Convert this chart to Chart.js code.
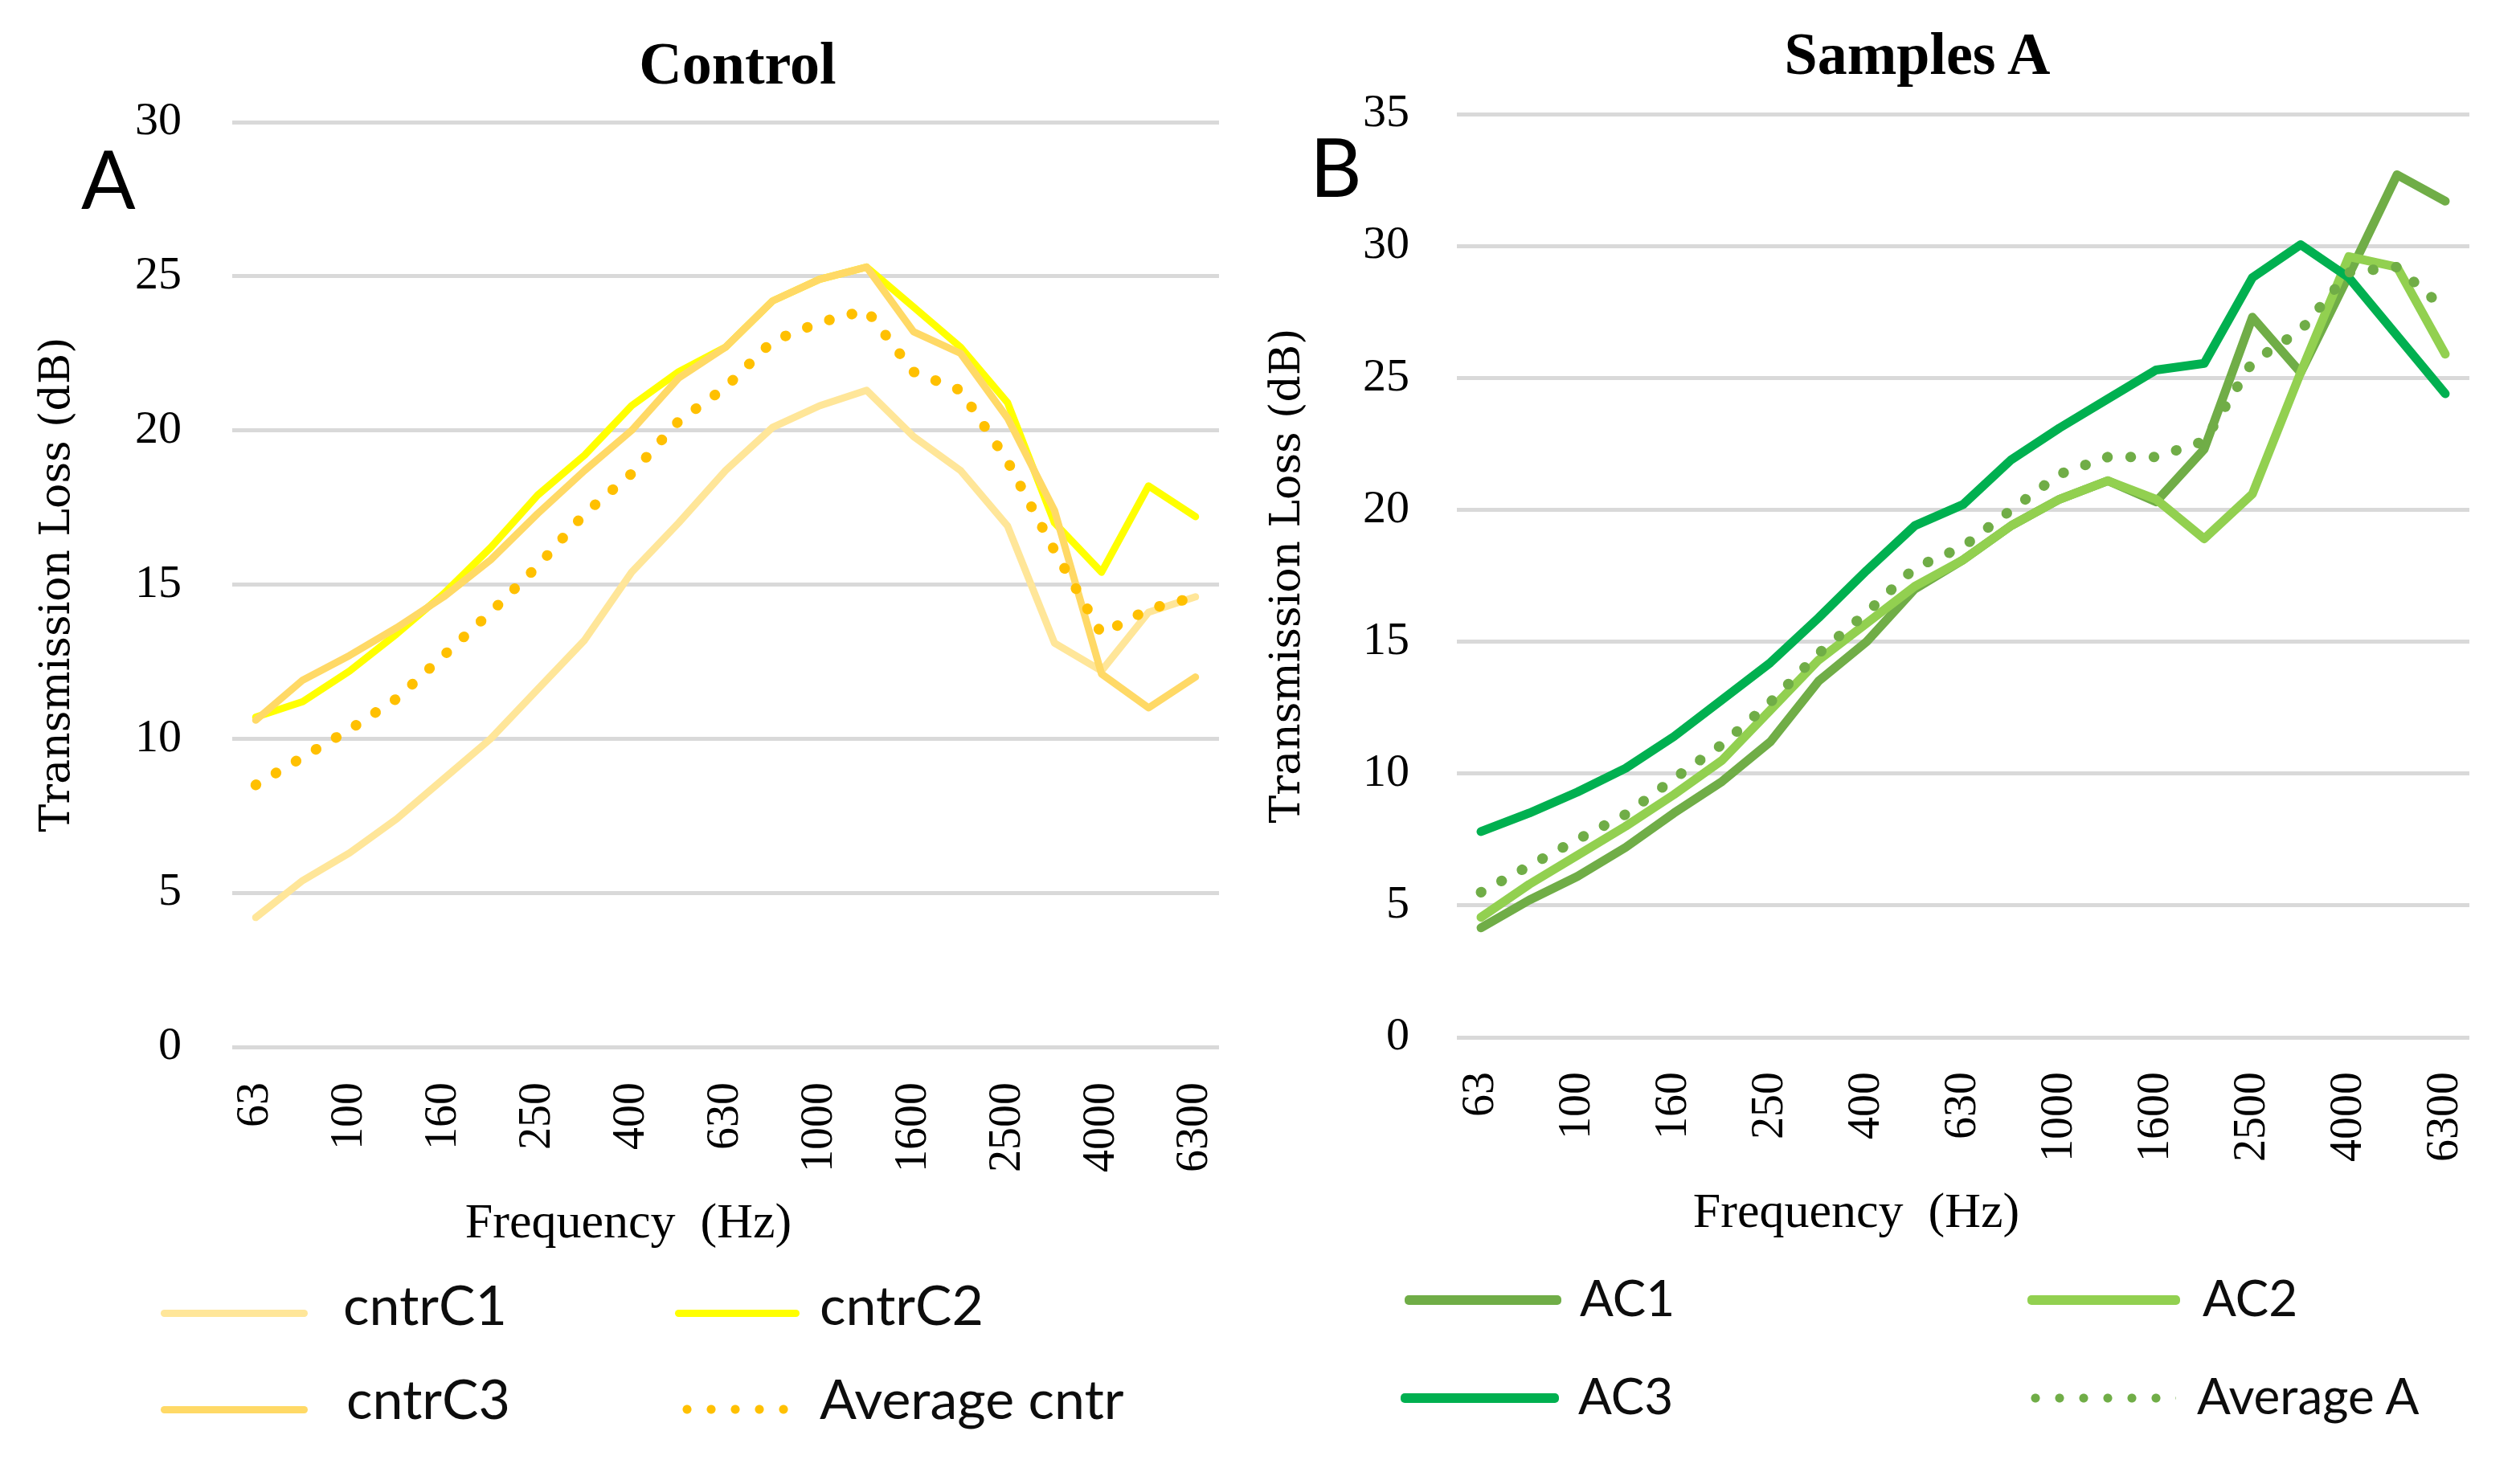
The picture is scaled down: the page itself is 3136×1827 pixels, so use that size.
<!DOCTYPE html>
<html>
<head>
<meta charset="utf-8">
<script src="https://cdn.jsdelivr.net/npm/chart.js@4.4.0/dist/chart.umd.min.js"></script>
<style>
    html, body { margin: 0; padding: 0; background: #fff; }
    body { width: 3136px; height: 1827px; position: relative; overflow: hidden; }
    canvas { position: absolute; top: 0; }
    .txt { position: absolute; white-space: nowrap; line-height: 1; color: #000; }
    .serif { font-family: "Liberation Serif", serif; }
    .sans { font-family: Lato, sans-serif; }
    .title { font-weight: bold; font-size: 74px; transform: translateX(-50%); }
    .caption { font-size: 62px; transform: translateX(-50%); }
    .letter { font-size: 100px; }
    .legtext { color: #0d0d0d; }
    .swatch { position: absolute; border-radius: 5px; }
</style>
</head>
<body>

<canvas id="controlChart" width="1568" height="1580" style="left:0px"></canvas>
<canvas id="samplesChart" width="1568" height="1580" style="left:1568px"></canvas>

<div class="txt serif title" style="left:918px; top:42px">Control</div>
<div class="txt serif title" style="left:2386px; top:30px">Samples A</div>
<div class="txt sans letter" style="left:101px; top:171px">A</div>
<div class="txt sans letter" style="left:1630px; top:156px">B</div>
<div class="txt serif caption" style="left:782px; top:1488px">Frequency&nbsp; (Hz)</div>
<div class="txt serif caption" style="left:2310px; top:1475px">Frequency&nbsp; (Hz)</div>
<div id="legends"></div>

<script>
// 1/3 octave bands, every other one is labelled on the axis
const freqLabels = ['63', '80', '100', '125', '160', '200', '250', '315', '400', '500', '630',
    '800', '1000', '1250', '1600', '2000', '2500', '3150', '4000', '5000', '6300'];

// Control
const cntrC1 = [4.2, 5.4, 6.3, 7.4, 8.7, 10.0, 11.6, 13.2, 15.4, 17.0, 18.7, 20.1, 20.8, 21.3, 19.8, 18.7, 16.9, 13.1, 12.2, 14.1, 14.6];
const cntrC2 = [10.7, 11.2, 12.2, 13.4, 14.7, 16.2, 17.9, 19.2, 20.8, 21.9, 22.7, 24.2, 24.9, 25.3, 24.0, 22.7, 20.9, 17.0, 15.4, 18.2, 17.2];
const cntrC3 = [10.6, 11.9, 12.7, 13.6, 14.6, 15.8, 17.3, 18.7, 20.0, 21.7, 22.7, 24.2, 24.9, 25.3, 23.2, 22.5, 20.4, 17.4, 12.1, 11.0, 12.0];
const avgCntr = [8.5, 9.4, 10.3, 11.3, 12.7, 14.1, 15.6, 17.3, 18.6, 20.3, 21.4, 22.9, 23.5, 23.9, 21.9, 21.3, 19.0, 16.1, 13.4, 14.2, 14.6];

// Samples A
const AC1 = [4.15, 5.2, 6.1, 7.2, 8.5, 9.7, 11.2, 13.5, 15.0, 17.0, 18.1, 19.4, 20.4, 21.1, 20.3, 22.3, 27.3, 25.2, 28.9, 32.7, 31.7];
const AC2 = [4.55, 5.8, 6.9, 8.0, 9.2, 10.5, 12.4, 14.3, 15.7, 17.1, 18.1, 19.4, 20.4, 21.1, 20.4, 18.9, 20.6, 25.2, 29.6, 29.2, 25.9];
const AC3 = [7.8, 8.5, 9.3, 10.2, 11.4, 12.8, 14.2, 15.9, 17.7, 19.4, 20.2, 21.9, 23.1, 24.2, 25.3, 25.55, 28.8, 30.05, 28.8, 26.6, 24.4];
const avgA = [5.5, 6.5, 7.5, 8.45, 9.8, 11.1, 12.7, 14.55, 16.1, 17.8, 18.6, 20.0, 21.35, 22.0, 22.0, 22.6, 25.6, 26.8, 29.0, 29.2, 27.6];

const yTicksControl = { max: 30, step: 5 };
const yTicksSamples = { max: 35, step: 5 };

function solid(label, data, color, width, order) {
    return { label: label, data: data, borderColor: color, backgroundColor: color,
        borderWidth: width, borderCapStyle: 'round', borderJoinStyle: 'round', order: order };
}

function dotted(label, data, color, order) {
    return { label: label, data: data, borderColor: color, backgroundColor: color,
        borderWidth: 13, borderCapStyle: 'round', borderDash: [0.5, 28.5], order: order };
}

function makeChart(id, datasets, yTicks, g) {
    return new Chart(document.getElementById(id), {
        type: 'line',
        data: { labels: freqLabels, datasets: datasets },
        options: {
            responsive: false,
            animation: false,
            devicePixelRatio: 1,
            layout: { padding: { top: g.top, right: g.right, bottom: 0, left: 0 } },
            plugins: { legend: { display: false }, tooltip: { enabled: false } },
            elements: { point: { radius: 0 }, line: { tension: 0 } },
            scales: {
                x: {
                    offset: true,
                    grid: { display: false, drawTicks: false },
                    border: { display: false },
                    ticks: {
                        autoSkip: false, minRotation: 90, maxRotation: 90, padding: g.xPad,
                        color: '#000', font: { family: 'Liberation Serif', size: 56 },
                        callback: function(v, i) { return i % 2 === 0 ? freqLabels[i] : ''; }
                    },
                    afterFit: function(s) { s.height = g.xH; s.paddingLeft = 0; s.paddingRight = 0; }
                },
                y: {
                    min: 0, max: yTicks.max,
                    grid: { color: '#D9D9D9', lineWidth: 5, drawTicks: false },
                    border: { display: false },
                    ticks: { stepSize: yTicks.step, padding: g.yPad, color: '#000',
                        font: { family: 'Liberation Serif', size: 58 } },
                    title: { display: true, text: 'Transmission Loss (dB)', color: '#000',
                        font: { family: 'DejaVu Serif', size: 52 }, padding: { top: g.titlePad, bottom: 0 } },
                    afterFit: function(s) { s.width = g.yW; s.paddingTop = 0; s.paddingBottom = 0; }
                }
            }
        }
    });
}

var controlChart = makeChart('controlChart', [
    solid('cntrC1', cntrC1, '#FFE699', 9, 4),
    solid('cntrC2', cntrC2, '#FFFF00', 9, 3),
    solid('cntrC3', cntrC3, '#FFD966', 9, 2),
    dotted('Average cntr', avgCntr, '#FFC000', 1)
], yTicksControl, { top: 152, right: 51, xH: 277, xPad: 44, yW: 289, yPad: 63, titlePad: 41 });

var samplesChart = makeChart('samplesChart', [
    solid('AC1', AC1, '#70AD47', 11, 4),
    solid('AC2', AC2, '#92D050', 11, 3),
    solid('AC3', AC3, '#00B050', 11, 2),
    dotted('Average A', avgA, '#70AD47', 1)
], yTicksSamples, { top: 142, right: 63, xH: 289, xPad: 43, yW: 245, yPad: 59, titlePad: 4 });

// legend boxes: [swatch left, swatch right, swatch y, text left, text top]
var legendSpots = {
    controlChart: { size: 68, thick: 9, spots: [
        [200, 383, 1634, 427, 1589], [840, 995, 1634, 1020, 1589],
        [200, 383, 1754, 431, 1706], [840, 995, 1754, 1020, 1706]] },
    samplesChart: { size: 62, thick: 12, spots: [
        [1748, 1943, 1618, 1966, 1583], [2523, 2713, 1618, 2741, 1583],
        [1743, 1940, 1740, 1964, 1705], [2518, 2708, 1740, 2734, 1705]] }
};

[controlChart, samplesChart].forEach(function(chart) {
    var spec = legendSpots[chart.canvas.id];
    chart.data.datasets.forEach(function(ds, i) {
        var p = spec.spots[i];
        var sw = $('<div class="swatch"></div>');
        var h = ds.borderDash ? 12 : spec.thick;
        sw.css({ left: p[0] + 'px', width: (p[1] - p[0]) + 'px', top: (p[2] - h / 2) + 'px', height: h + 'px' });
        if (ds.borderDash) {
            sw.css({ background: 'radial-gradient(circle, ' + ds.borderColor + ' 5px, transparent 6px) 0 0 / 30px 12px repeat-x' });
        } else {
            sw.css({ background: ds.borderColor });
        }
        var tx = $('<div class="txt sans legtext"></div>').text(ds.label);
        tx.css({ left: p[3] + 'px', top: p[4] + 'px', fontSize: spec.size + 'px' });
        $('#legends').append(sw).append(tx);
    });
});

function $(html) {
    var wrap = document.createElement('div');
    wrap.innerHTML = html;
    var el = wrap.firstChild;
    if (html.charAt(0) === '#') el = document.getElementById(html.slice(1));
    return {
        el: el,
        css: function(o) { Object.assign(this.el.style, o); return this; },
        text: function(t) { this.el.textContent = t; return this; },
        append: function(other) { this.el.appendChild(other.el); return this; }
    };
}
</script>
</body>
</html>
